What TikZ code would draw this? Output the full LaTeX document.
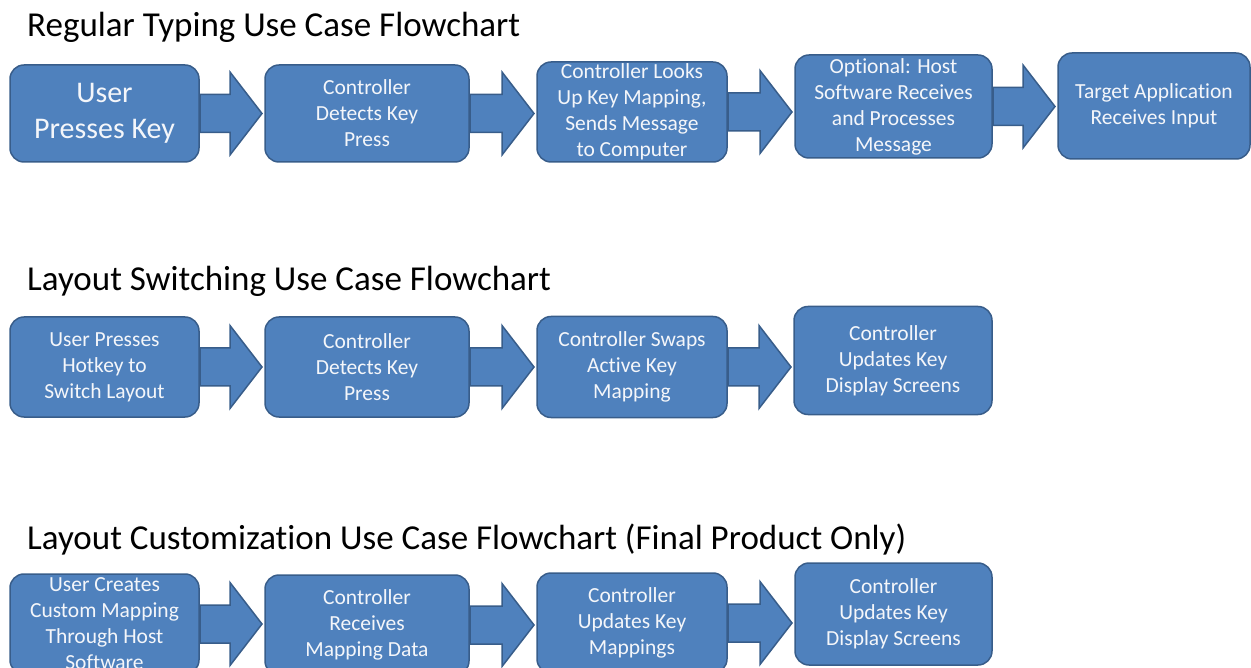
\documentclass[tikz,border=0pt]{standalone}
\usepackage{fontspec}
\setmainfont{Carlito}[Ligatures=NoCommon]
\usetikzlibrary{positioning,calc}
\definecolor{boxfill}{HTML}{4F81BD}
\definecolor{boxline}{HTML}{385D8A}
\definecolor{boxtext}{HTML}{F4F6FA}

% fat block arrow from the east side of #1 to the west side of #2
\newcommand{\blockarrow}[2]{%
  \path[flowarrow] let \p1=(#1.east), \p2=(#2.west) in
    (\x1+1pt,\y1+19pt) -- (\x2-35pt,\y1+19pt) -- (\x2-35pt,\y1+41.5pt)
    -- (\x2-3pt,\y1) -- (\x2-35pt,\y1-41.5pt) -- (\x2-35pt,\y1-19pt)
    -- (\x1+1pt,\y1-19pt) -- cycle;}

\begin{document}
\begin{tikzpicture}[x=1pt,y=-1pt,
  stepbox/.style={draw=boxline,fill=boxfill,line width=1.5pt,rounded corners=14pt,inner sep=0pt,outer sep=0pt,align=center,text=boxtext,font=\fontsize{21.5}{26}\selectfont},
  flowarrow/.style={draw=boxline,fill=boxfill,line width=1.5pt,line join=miter},
  heading/.style={anchor=base west,inner sep=0pt,font=\fontsize{35}{40}\selectfont}
]
\useasboundingbox (0,0) rectangle (1251,668);
\clip (0,0) rectangle (1251,668);

% regular typing
\node[heading] (typetitle) at (27,37) {Regular Typing Use Case Flowchart};
\node[stepbox,minimum width=189pt,minimum height=97pt,font=\fontsize{30}{36}\selectfont] (type1) at (104.5,113.5) {User\\Presses Key};
\node[stepbox,minimum width=204pt,minimum height=97pt,right=66pt of type1] (type2) {Controller\\Detects Key\\Press};
\node[stepbox,minimum width=190pt,minimum height=100pt,right=68pt of type2,yshift=1.5pt] (type3) {Controller Looks\\Up Key Mapping,\\Sends Message\\to Computer};
\node[stepbox,minimum width=197pt,minimum height=103pt,right=68pt of type3,yshift=5.5pt] (type4) {Optional: Host\\Software Receives\\and Processes\\Message};
\node[stepbox,minimum width=192pt,minimum height=106pt,right=66pt of type4,yshift=0.5pt] (type5) {Target Application\\Receives Input};
\blockarrow{type1}{type2}
\blockarrow{type2}{type3}
\blockarrow{type3}{type4}
\blockarrow{type4}{type5}

% layout switching
\node[heading] (switchtitle) at (27,291) {Layout Switching Use Case Flowchart};
\node[stepbox,minimum width=189pt,minimum height=100pt] (switch1) at (104.5,367) {User Presses\\Hotkey to\\Switch Layout};
\node[stepbox,minimum width=204pt,minimum height=100pt,right=66pt of switch1] (switch2) {Controller\\Detects Key\\Press};
\node[stepbox,minimum width=190pt,minimum height=101pt,right=68pt of switch2] (switch3) {Controller Swaps\\Active Key\\Mapping};
\node[stepbox,minimum width=198pt,minimum height=108pt,right=67pt of switch3,yshift=6.5pt] (switch4) {Controller\\Updates Key\\Display Screens};
\blockarrow{switch1}{switch2}
\blockarrow{switch2}{switch3}
\blockarrow{switch3}{switch4}

% layout customization
\node[heading] (customtitle) at (27,549) {Layout Customization Use Case Flowchart (Final Product Only)};
\node[stepbox,minimum width=189pt,minimum height=100pt] (custom1) at (104.5,624) {User Creates\\Custom Mapping\\Through Host\\Software};
\node[stepbox,minimum width=204pt,minimum height=100pt,right=66pt of custom1,yshift=-1pt] (custom2) {Controller\\Receives\\Mapping Data};
\node[stepbox,minimum width=190pt,minimum height=100pt,right=68pt of custom2,yshift=2pt] (custom3) {Controller\\Updates Key\\Mappings};
\node[stepbox,minimum width=197pt,minimum height=102pt,right=68pt of custom3,yshift=9pt] (custom4) {Controller\\Updates Key\\Display Screens};
\blockarrow{custom1}{custom2}
\blockarrow{custom2}{custom3}
\blockarrow{custom3}{custom4}
\end{tikzpicture}
\end{document}
